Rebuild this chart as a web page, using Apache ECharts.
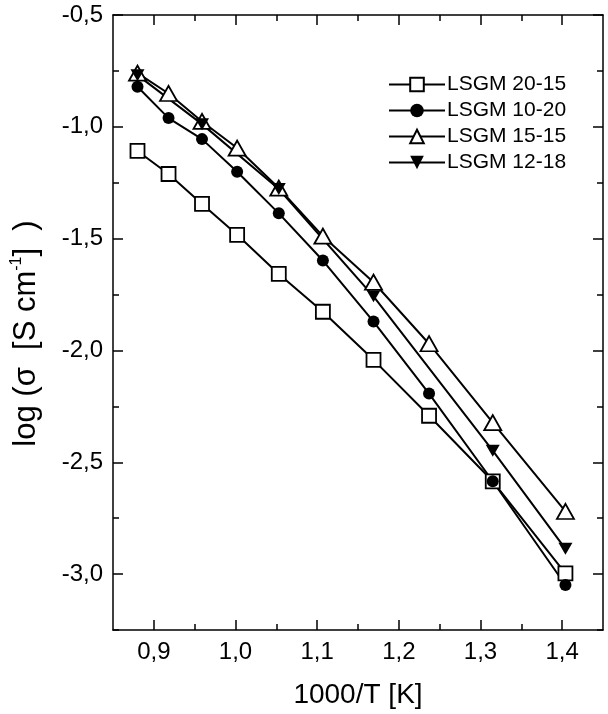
<!DOCTYPE html>
<html>
<head>
<meta charset="utf-8">
<script src="https://cdn.jsdelivr.net/npm/echarts@6/dist/echarts.min.js"></script>
<style>
html, body { margin: 0; padding: 0; background: #fff; }
#main { width: 608px; height: 714px; }
</style>
</head>
<body>
<div id="main"></div>
<script>
// 1000/T values
var invT = [0.880, 0.918, 0.959, 1.002, 1.053, 1.107, 1.169, 1.237, 1.315, 1.404];
var invT1218 = [0.880, 0.959, 1.053, 1.169, 1.315, 1.404];

// log(sigma) per sample
var lsgm2015 = [-1.108, -1.211, -1.345, -1.483, -1.658, -1.827, -2.042, -2.292, -2.585, -2.997];
var lsgm1020 = [-0.821, -0.961, -1.055, -1.201, -1.387, -1.598, -1.871, -2.193, -2.585, -3.049];
var lsgm1515 = [-0.760, -0.851, -0.976, -1.095, -1.274, -1.489, -1.695, -1.970, -2.323, -2.720];
var lsgm1218 = [-0.769, -0.988, -1.278, -1.758, -2.448, -2.887];

var names = ['LSGM 20-15', 'LSGM 10-20', 'LSGM 15-15', 'LSGM 12-18'];

// ticks
var xMajor = [0.9, 1.0, 1.1, 1.2, 1.3, 1.4];
var xMinor = [0.95, 1.05, 1.15, 1.25, 1.35];
var yMajor = [-3.0, -2.5, -2.0, -1.5, -1.0, -0.5];
var yMinor = [-3.25, -2.75, -2.25, -1.75, -1.25, -0.75];

var FONT = '"Liberation Sans", Arial, sans-serif';

function comma(v) {
  return v.toFixed(1).replace('.', ',');
}

function pairs(xs, ys) {
  return xs.map(function(x, i) { return [x, ys[i]]; });
}

function xAxisDef(pos, ticks, len, main) {
  return {
    type: 'value', position: pos, min: 0.85, max: 1.45,
    axisLine: { show: main, onZero: false, lineStyle: { color: '#000', width: 1.5 } },
    axisTick: { show: true, inside: true, length: len, customValues: ticks,
      lineStyle: { color: '#000', width: 1.5 } },
    axisLabel: { show: main && pos == 'bottom', customValues: ticks, formatter: comma,
      color: '#000', fontSize: 24, fontFamily: FONT, margin: 10 },
    splitLine: { show: false },
    name: main && pos == 'bottom' ? '1000/T [K]' : '',
    nameLocation: 'middle', nameGap: 51,
    nameTextStyle: { color: '#000', fontSize: 28, fontFamily: FONT }
  };
}

function yAxisDef(pos, ticks, len, main) {
  return {
    type: 'value', position: pos, min: -3.25, max: -0.5,
    axisLine: { show: main, onZero: false, lineStyle: { color: '#000', width: 1.5 } },
    axisTick: { show: true, inside: true, length: len, customValues: ticks,
      lineStyle: { color: '#000', width: 1.5 } },
    axisLabel: { show: main && pos == 'left', customValues: ticks, formatter: comma,
      color: '#000', fontSize: 24, fontFamily: FONT, margin: 10 },
    splitLine: { show: false },
    name: main && pos == 'left' ? '{a|log (σ  [S cm}{s|-1}{a|]  )}' : '',
    nameLocation: 'middle', nameGap: 70, nameRotate: 90,
    nameTextStyle: {
      color: '#000', fontFamily: FONT, padding: [0, 22, 0, 0],
      rich: {
        a: { fontSize: 31, fontFamily: FONT, color: '#000', lineHeight: 34 },
        s: { fontSize: 16, fontFamily: FONT, color: '#000', lineHeight: 16, verticalAlign: 'top' }
      }
    }
  };
}

var chart = echarts.init(document.getElementById('main'));

var lineStyle = { color: '#000', width: 2 };

chart.setOption({
  backgroundColor: '#fff',
  animation: false,
  grid: { left: 113, right: 5, top: 15, bottom: 83 },
  xAxis: [
    xAxisDef('bottom', xMajor, 10, true),
    xAxisDef('bottom', xMinor, 6, false),
    xAxisDef('top', xMajor, 10, true),
    xAxisDef('top', xMinor, 6, false)
  ],
  yAxis: [
    yAxisDef('left', yMajor, 10, true),
    yAxisDef('left', yMinor, 6, false),
    yAxisDef('right', yMajor, 10, true),
    yAxisDef('right', yMinor, 6, false)
  ],
  legend: {
    orient: 'vertical', left: 383, top: 69,
    itemWidth: 56, itemHeight: 17, itemGap: 5,
    data: names,
    textStyle: { color: '#000', fontSize: 21, fontFamily: FONT, padding: [0, 0, 0, -3] }
  },
  series: [
    {
      name: names[0], type: 'line', data: pairs(invT, lsgm2015),
      symbol: 'rect', symbolSize: 14,
      lineStyle: lineStyle,
      itemStyle: { color: '#fff', borderColor: '#000', borderWidth: 1.8 }
    },
    {
      name: names[1], type: 'line', data: pairs(invT, lsgm1020),
      symbol: 'circle', symbolSize: 12,
      lineStyle: lineStyle,
      itemStyle: { color: '#000', borderColor: '#000', borderWidth: 0 }
    },
    {
      name: names[2], type: 'line', data: pairs(invT, lsgm1515),
      symbol: 'triangle', symbolSize: [17, 15],
      lineStyle: lineStyle,
      itemStyle: { color: '#fff', borderColor: '#000', borderWidth: 1.8 }
    },
    {
      name: names[3], type: 'line', data: pairs(invT1218, lsgm1218),
      symbol: 'triangle', symbolRotate: 180, symbolSize: [14, 12],
      lineStyle: lineStyle,
      itemStyle: { color: '#000', borderColor: '#000', borderWidth: 0 }
    }
  ]
});
</script>
</body>
</html>
